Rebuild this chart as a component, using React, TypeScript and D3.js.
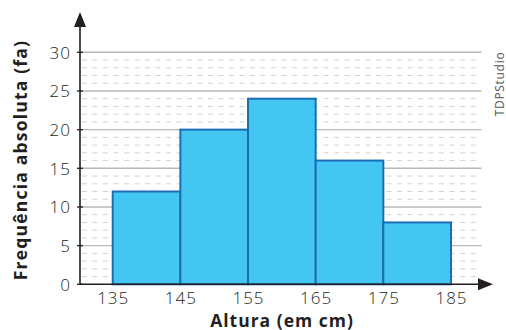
import React from "react";
import * as d3 from "d3";

const binStarts = [135, 145, 155, 165, 175];
const binWidth = 10;
const frequencies = [12, 20, 24, 16, 8];
const xTicks = [135, 145, 155, 165, 175, 185];
const yTicks = [0, 5, 10, 15, 20, 25, 30];
const minorTicks = d3.range(1, 31).filter((v) => v % 5 !== 0);

const W = 506;
const H = 330;

export default function App() {
  const x = d3.scaleLinear().domain([135, 185]).range([112.7, 451]);
  const y = d3.scaleLinear().domain([0, 30]).range([284.3, 52.3]);
  const axisX = 80;
  const axisY = y(0);
  const gridEnd = 481.5;
  const font = "'Open Sans', Roboto, sans-serif";

  return (
    <svg
      width={W}
      height={H}
      style={{ position: "absolute", left: 0, top: 0, background: "#fff" }}
    >
      {/* minor dashed gridlines */}
      {minorTicks.map((v) => (
        <line
          key={"m" + v}
          x1={axisX + 2}
          x2={gridEnd - 4}
          y1={y(v)}
          y2={y(v)}
          stroke="#d2d2d2"
          strokeWidth={1}
          strokeDasharray="5 5.5"
        />
      ))}
      {/* major gridlines */}
      {yTicks.filter((v) => v > 0).map((v) => (
        <line
          key={"M" + v}
          x1={axisX}
          x2={gridEnd}
          y1={y(v)}
          y2={y(v)}
          stroke="#b8b8b8"
          strokeWidth={1.4}
        />
      ))}
      {/* bars */}
      {binStarts.map((s, i) => (
        <rect
          key={s}
          x={x(s)}
          y={y(frequencies[i])}
          width={x(s + binWidth) - x(s)}
          height={y(0) - y(frequencies[i])}
          fill="#43c7f2"
          stroke="#1b6db5"
          strokeWidth={2}
        />
      ))}
      {/* y ticks */}
      {yTicks.map((v) => (
        <g key={"yt" + v}>
          <line x1={axisX - 3} x2={axisX + 3} y1={y(v)} y2={y(v)} stroke="#231f20" strokeWidth={1.3} />
          <text
            x={axisX - 9}
            y={y(v)}
            textAnchor="end"
            dominantBaseline="central"
            fontFamily={font}
            fontWeight={300}
            fontSize={17}
            letterSpacing={1}
            fill="#231f20"
          >
            {v}
          </text>
        </g>
      ))}
      {/* x tick labels */}
      {xTicks.map((v) => (
        <text
          key={"xt" + v}
          x={x(v) + 0.5}
          y={304}
          textAnchor="middle"
          fontFamily={font}
          fontWeight={300}
          fontSize={17}
          letterSpacing={1}
          fill="#231f20"
        >
          {v}
        </text>
      ))}
      {/* axes */}
      <line x1={axisX} x2={axisX} y1={axisY} y2={20} stroke="#231f20" strokeWidth={1.6} />
      <path d={`M${axisX},12 L${axisX - 6},27 L${axisX + 6},27 Z`} fill="#231f20" />
      <line x1={axisX} x2={484} y1={axisY} y2={axisY} stroke="#231f20" strokeWidth={1.6} />
      <path d={`M493,${axisY} L478,${axisY - 6} L478,${axisY + 6} Z`} fill="#231f20" />
      {/* axis titles */}
      <text
        x={282}
        y={326.5}
        textAnchor="middle"
        fontFamily={font}
        fontWeight={700}
        fontSize={17.5}
        letterSpacing={1}
        fill="#231f20"
      >
        Altura (em cm)
      </text>
      <text
        transform="translate(26.5,160) rotate(-90)"
        textAnchor="middle"
        fontFamily={font}
        fontWeight={700}
        fontSize={17.5}
        letterSpacing={1.2}
        fill="#231f20"
      >
        Frequência absoluta (fa)
      </text>
      <text
        transform="translate(503.5,84) rotate(-90)"
        textAnchor="middle"
        fontFamily={font}
        fontWeight={400}
        fontSize={12}
        letterSpacing={0.7}
        fill="#555"
      >
        TDPStudio
      </text>
    </svg>
  );
}
